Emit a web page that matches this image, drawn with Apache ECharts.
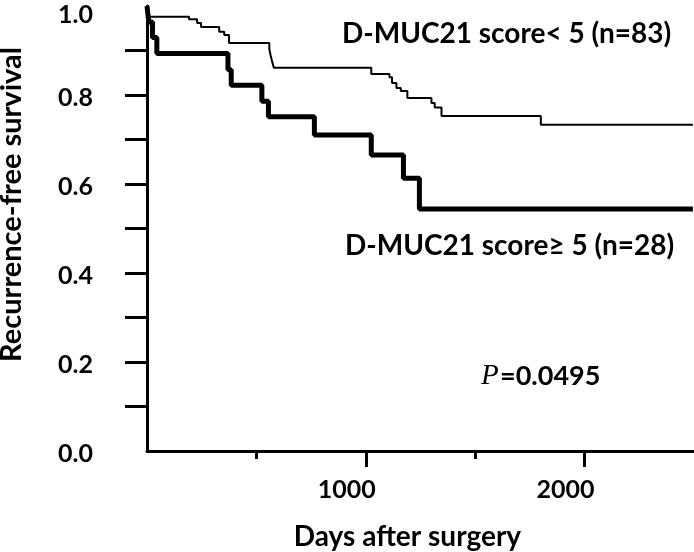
<!DOCTYPE html>
<html>
<head>
<meta charset="utf-8">
<script src="https://cdn.jsdelivr.net/npm/echarts@6/dist/echarts.min.js"></script>
<style>
html,body{margin:0;padding:0;background:#fff;}
#c{width:694px;height:552px;}
</style>
</head>
<body>
<div id="c"></div>
<script>
// Kaplan-Meier step data: [day, survival after event]
const lowScoreDays = [0, 5, 10, 192, 229, 247, 330, 353, 375, 559, 565, 572, 580, 1025, 1108, 1120, 1140, 1160, 1190, 1300, 1315, 1346, 1800, 2495];
const lowScoreSurv = [1.0, 0.988, 0.976, 0.970, 0.962, 0.953, 0.942, 0.935, 0.917, 0.903, 0.889, 0.875, 0.861, 0.847, 0.840, 0.827, 0.816, 0.809, 0.793, 0.782, 0.772, 0.753, 0.733, 0.733];
const highScoreDays = [0, 8, 25, 45, 370, 385, 525, 555, 765, 1025, 1172, 1245, 2495];
const highScoreSurv = [1.0, 0.964, 0.929, 0.893, 0.857, 0.822, 0.786, 0.751, 0.710, 0.665, 0.613, 0.544, 0.544];

const yLabelValues = [0, 0.2, 0.4, 0.6, 0.8, 1.0];
const yTickValues = [0.1, 0.2, 0.3, 0.4, 0.5, 0.6, 0.7, 0.8, 0.9];
const xMajorTicks = [1000, 2000];
const xMinorTicks = [500, 1500];

const lowLabel = 'D-MUC21 score< 5 (n=83)';
const highLabel = 'D-MUC21 score\u2265 5 (n=28)';
const pText = '=0.0495';

const FONT = 'Lato';
const chart = echarts.init(document.getElementById('c'), null, {renderer: 'canvas'});

const zip = (a, b) => a.map((v, i) => [v, b[i]]);

chart.setOption({
  animation: false,
  backgroundColor: '#fff',
  grid: {left: 147, right: 0, top: 6, bottom: 101, containLabel: false, outerBoundsMode: 'none'},
  xAxis: [{
    type: 'value', min: 0, max: 2500,
    name: 'Days after surgery', nameLocation: 'middle', nameGap: 72,
    nameTextStyle: {fontFamily: FONT, fontWeight: 'bold', fontSize: 28, color: '#000', padding: [0, 26, 0, 0]},
    axisLine: {show: true, onZero: false, lineStyle: {color: '#000', width: 3}},
    axisTick: {show: true, length: 16, customValues: xMajorTicks, lineStyle: {color: '#000', width: 3}},
    axisLabel: {show: true, customValues: xMajorTicks, margin: 26, padding: [0, 38, 0, 0],
      formatter: v => String(v),
      fontFamily: FONT, fontWeight: 'bold', fontSize: 25, color: '#000'},
    splitLine: {show: false}
  }, {
    type: 'value', min: 0, max: 2500, position: 'bottom',
    axisLine: {show: false},
    axisTick: {show: true, length: 8, customValues: xMinorTicks, lineStyle: {color: '#000', width: 3}},
    axisLabel: {show: false},
    splitLine: {show: false}
  }],
  yAxis: {
    type: 'value', min: 0, max: 1,
    name: 'Recurrence-free survival', nameLocation: 'middle', nameGap: 121,
    nameTextStyle: {fontFamily: FONT, fontWeight: 'bold', fontSize: 29, color: '#000', padding: [0, 0, 0, 48]},
    axisLine: {show: true, lineStyle: {color: '#000', width: 3}},
    axisTick: {show: true, length: 22, customValues: yTickValues, lineStyle: {color: '#000', width: 3}},
    axisLabel: {show: true, customValues: yLabelValues, margin: 54, padding: [6, 0, 0, 0],
      formatter: v => (v >= 1 ? '{top|' + v.toFixed(1) + '}' : v.toFixed(1)),
      rich: {top: {fontFamily: FONT, fontWeight: 'bold', fontSize: 25, color: '#000', padding: [12, 0, 0, 0]}},
      fontFamily: FONT, fontWeight: 'bold', fontSize: 25, color: '#000'},
    splitLine: {show: false}
  },
  series: [{
    type: 'line', name: lowLabel, step: 'end', showSymbol: false, symbol: 'none',
    data: zip(lowScoreDays, lowScoreSurv),
    lineStyle: {color: '#000', width: 2}
  }, {
    type: 'line', name: highLabel, step: 'end', showSymbol: false, symbol: 'none',
    data: zip(highScoreDays, highScoreSurv),
    lineStyle: {color: '#000', width: 5}
  }],
  graphic: [{
    type: 'text', left: 342, top: 20,
    style: {text: lowLabel, fontFamily: FONT, fontWeight: 'bold', fontSize: 28, fill: '#000'}
  }, {
    type: 'text', left: 345, top: 232,
    style: {text: highLabel, fontFamily: FONT, fontWeight: 'bold', fontSize: 28, fill: '#000'}
  }, {
    type: 'text', left: 481, top: 362,
    style: {text: 'P', fontFamily: 'Liberation Serif', fontStyle: 'italic', fontSize: 29, fill: '#000'}
  }, {
    type: 'text', left: 500, top: 363,
    style: {text: pText, fontFamily: FONT, fontWeight: 'bold', fontSize: 27, fill: '#000'}
  }]
});
</script>
</body>
</html>
